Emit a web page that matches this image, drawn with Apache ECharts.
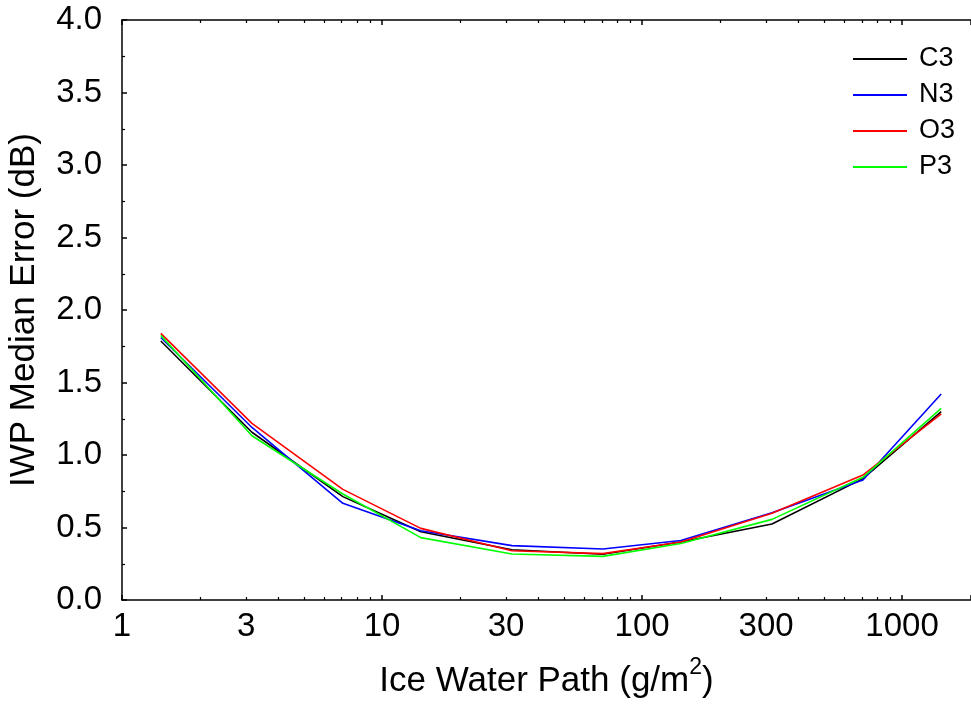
<!DOCTYPE html>
<html>
<head>
<meta charset="utf-8">
<script src="https://cdn.jsdelivr.net/npm/echarts@6/dist/echarts.min.js"></script>
<style>
html,body{margin:0;padding:0;background:#fff;}
#chart{width:971px;height:708px;}
</style>
</head>
<body>
<div id="chart"></div>
<script>
// Ice water path bin centres (g/m^2)
var iwp = [1.41, 3.16, 7.07, 14.1, 31.6, 70.7, 141, 316, 707, 1414];
// Median errors (dB)
var c3 = [1.786, 1.157, 0.713, 0.471, 0.347, 0.315, 0.400, 0.524, 0.837, 1.299];
var n3 = [1.810, 1.190, 0.667, 0.478, 0.375, 0.352, 0.410, 0.602, 0.828, 1.421];
var o3 = [1.839, 1.218, 0.763, 0.494, 0.340, 0.320, 0.400, 0.598, 0.862, 1.283];
var p3 = [1.825, 1.133, 0.731, 0.430, 0.317, 0.301, 0.390, 0.556, 0.846, 1.322];
var seriesNames = ['C3', 'N3', 'O3', 'P3'];
// Axis ticks
var xTickLabels = [1, 3, 10, 30, 100, 300, 1000];
var xMinorTicks = [2,3,4,5,6,7,8,9,20,30,40,50,60,70,80,90,200,300,400,500,600,700,800,900];
var xMin = 1, xMax = 1841;

var lg = function (v) { return Math.log(v) / Math.LN10; };
var FONT = 'Liberation Sans, Arial, Helvetica, sans-serif';
var chart = echarts.init(document.getElementById('chart'), null, {renderer: 'canvas'});

function pairs(ys) { return iwp.map(function (x, i) { return [x, ys[i]]; }); }
var colors = ['#000000', '#0000ff', '#ff0000', '#00ff00'];
var vals = [c3, n3, o3, p3];

var lineStyleAxis = {color: '#000', width: 1.5};

var option = {
  animation: false,
  backgroundColor: '#fff',
  grid: {left: 122, right: 0, top: 20, bottom: 108, containLabel: false, outerBoundsMode: 'none'},
  legend: {
    data: seriesNames,
    orient: 'vertical',
    left: 848, top: 39,
    icon: 'rect',
    itemWidth: 54, itemHeight: 2,
    itemGap: 6,
    textStyle: {fontFamily: FONT, fontSize: 27, color: '#000', lineHeight: 30, padding: [0, 0, 0, 7]}
  },
  xAxis: [
    { // main log axis, major ticks bottom
      type: 'log', logBase: 10, min: xMin, max: xMax, position: 'bottom',
      axisLine: {show: true, onZero: false, lineStyle: lineStyleAxis},
      axisTick: {show: true, inside: true, length: 5, lineStyle: {color: '#000', width: 1.5}},
      axisLabel: {show: false},
      splitLine: {show: false}, minorTick: {show: false},
      name: 'Ice Water Path (g/m{sup|2})',
      nameLocation: 'middle', nameGap: 56,
      nameTextStyle: {fontFamily: FONT, fontSize: 35, color: '#000', lineHeight: 51,
        rich: {sup: {fontFamily: FONT, fontSize: 23, color: '#000', verticalAlign: 'top', lineHeight: 24}}}
    },
    { // bottom minor ticks + labels
      type: 'value', min: lg(xMin), max: lg(xMax), position: 'bottom',
      axisLine: {show: false},
      axisTick: {show: true, inside: true, length: 3, customValues: xMinorTicks.map(lg), lineStyle: {color: '#000', width: 1.2}},
      axisLabel: {show: true, customValues: xTickLabels.map(lg), margin: 10,
        fontFamily: FONT, fontSize: 33, color: '#000',
        formatter: function (v) { return String(Math.round(Math.pow(10, v))); }},
      splitLine: {show: false}
    },
    { // top log axis
      type: 'log', logBase: 10, min: xMin, max: xMax, position: 'top',
      axisLine: {show: true, onZero: false, lineStyle: lineStyleAxis},
      axisTick: {show: true, inside: true, length: 5, lineStyle: {color: '#000', width: 1.5}},
      axisLabel: {show: false}, splitLine: {show: false}
    },
    { // top minor ticks
      type: 'value', min: lg(xMin), max: lg(xMax), position: 'top',
      axisLine: {show: false},
      axisTick: {show: true, inside: true, length: 3, customValues: xMinorTicks.map(lg), lineStyle: {color: '#000', width: 1.2}},
      axisLabel: {show: false}, splitLine: {show: false}
    }
  ],
  yAxis: [{
    type: 'value', min: 0, max: 4, interval: 0.5,
    axisLine: {show: true, lineStyle: lineStyleAxis},
    axisTick: {show: true, inside: true, length: 5, lineStyle: {color: '#000', width: 1.5}},
    minorTick: {show: true, splitNumber: 2, length: 3, lineStyle: {color: '#000', width: 1.2}},
    axisLabel: {margin: 20, fontFamily: FONT, fontSize: 33, color: '#000',
      formatter: function (v) { return v.toFixed(1); }},
    splitLine: {show: false},
    name: 'IWP Median Error (dB)', nameLocation: 'middle', nameGap: 80,
    nameTextStyle: {fontFamily: FONT, fontSize: 35, color: '#000'}
  }],
  series: seriesNames.map(function (n, i) {
    return {
      name: n, type: 'line', xAxisIndex: 0, yAxisIndex: 0,
      data: pairs(vals[i]), showSymbol: false, symbol: 'none',
      lineStyle: {color: colors[i], width: 1.6}, itemStyle: {color: colors[i]},
      emphasis: {disabled: true}
    };
  })
};
chart.setOption(option);
</script>
</body>
</html>
